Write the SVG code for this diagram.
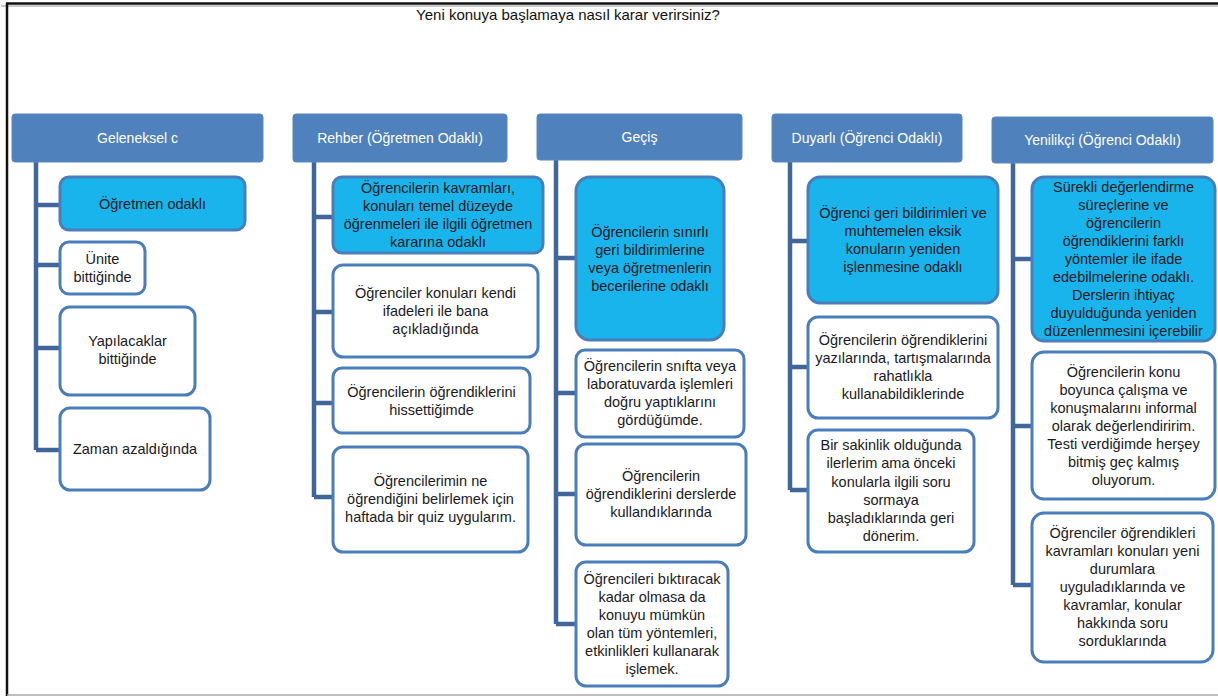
<svg xmlns="http://www.w3.org/2000/svg" width="1218" height="696" viewBox="0 0 1218 696">
  <style>
    .hdr rect { fill: #4f81bd; stroke: #5a88c0; stroke-width: 1; }
    .hdr text { fill: #ffffff; font-family: "Liberation Sans", Arial, sans-serif; font-size: 14px; text-anchor: middle; }
    .node rect { stroke: #4a7ebb; stroke-width: 3; }
    .node.hi rect { fill: #19b4ec; }
    .node.lo rect { fill: #ffffff; }
    .node text { fill: #1a1a24; font-family: "Liberation Sans", Arial, sans-serif; font-size: 14.5px; text-anchor: middle; }
    .links path { fill: none; stroke: #40669a; stroke-width: 4.5; }
    .title { fill: #111111; font-family: "Liberation Sans", Arial, sans-serif; font-size: 15px; text-anchor: middle; }
  </style>

  <rect x="0" y="0" width="1218" height="696" fill="#ffffff"/>
  <!-- page frame -->
  <line x1="6" y1="3.5" x2="1218" y2="3.5" stroke="#111" stroke-width="2.5"/>
  <line x1="1" y1="6" x2="1218" y2="6" stroke="#999" stroke-width="1"/>
  <line x1="7" y1="3" x2="7" y2="696" stroke="#111" stroke-width="2.5"/>
  <line x1="7" y1="695" x2="1218" y2="695" stroke="#aaa" stroke-width="1.5"/>

  <text class="title" x="568" y="20">Yeni konuya başlamaya nasıl karar verirsiniz?</text>

  <!-- connectors -->
  <g class="links">
    <path d="M36 162 V450 M36 205 H60 M36 265 H60 M36 348 H60 M36 450 H60"/>
    <path d="M314 162 V497 M314 217 H333 M314 312 H333 M314 403 H333 M314 497 H333"/>
    <path d="M556 160 V624 M556 258 H576 M556 393 H576 M556 494 H576 M556 624 H576"/>
    <path d="M790 162 V490 M790 241 H808 M790 367 H808 M790 490 H808"/>
    <path d="M1013 162 V585 M1013 259 H1032 M1013 426 H1032 M1013 585 H1032"/>
  </g>

  <!-- column headers -->
  <g id="h1" class="hdr"><rect x="12" y="114" width="251" height="48" rx="3"/><text x="137.5" y="143">Geleneksel c</text></g>
  <g id="h2" class="hdr"><rect x="293" y="114" width="214" height="48" rx="3"/><text x="400" y="143">Rehber (Öğretmen Odaklı)</text></g>
  <g id="h3" class="hdr"><rect x="537" y="114" width="205" height="46" rx="3"/><text x="639.5" y="142">Geçiş</text></g>
  <g id="h4" class="hdr"><rect x="772" y="114" width="190" height="48" rx="3"/><text x="867" y="143">Duyarlı (Öğrenci Odaklı)</text></g>
  <g id="h5" class="hdr"><rect x="992" y="117" width="221" height="46" rx="3"/><text x="1102.5" y="145">Yenilikçi (Öğrenci Odaklı)</text></g>

  <!-- Geleneksel -->
  <g id="n1a" class="node hi"><rect x="60" y="177" width="185" height="53" rx="9"/><text x="152.5" y="209">Öğretmen odaklı</text></g>
  <g id="n1b" class="node lo"><rect x="60" y="242" width="85" height="52" rx="9"/><text x="102.5" y="264">Ünite</text><text x="102.5" y="282">bittiğinde</text></g>
  <g id="n1c" class="node lo"><rect x="60" y="307" width="135" height="88" rx="10"/><text x="127.5" y="346">Yapılacaklar</text><text x="127.5" y="364">bittiğinde</text></g>
  <g id="n1d" class="node lo"><rect x="60" y="408" width="150" height="82" rx="10"/><text x="135" y="454">Zaman azaldığında</text></g>

  <!-- Rehber -->
  <g id="n2a" class="node hi"><rect x="333" y="177" width="210" height="76" rx="9"/>
    <text x="438" y="193">Öğrencilerin kavramları,</text><text x="438" y="211">konuları temel düzeyde</text><text x="438" y="229">öğrenmeleri ile ilgili öğretmen</text><text x="438" y="247">kararına odaklı</text></g>
  <g id="n2b" class="node lo"><rect x="333" y="265" width="205" height="92" rx="10"/>
    <text x="435.5" y="298">Öğrenciler konuları kendi</text><text x="435.5" y="316">ifadeleri ile bana</text><text x="435.5" y="334">açıkladığında</text></g>
  <g id="n2c" class="node lo"><rect x="333" y="368" width="197" height="65" rx="9"/>
    <text x="431.5" y="397">Öğrencilerin öğrendiklerini</text><text x="431.5" y="415">hissettiğimde</text></g>
  <g id="n2d" class="node lo"><rect x="333" y="447" width="195" height="105" rx="10"/>
    <text x="430.5" y="486">Öğrencilerimin ne</text><text x="430.5" y="504">öğrendiğini belirlemek için</text><text x="430.5" y="522">haftada bir quiz uygularım.</text></g>

  <!-- Geçiş -->
  <g id="n3a" class="node hi"><rect x="576" y="177" width="148" height="163" rx="14"/>
    <text x="650" y="237">Öğrencilerin sınırlı</text><text x="650" y="255">geri bildirimlerine</text><text x="650" y="273">veya öğretmenlerin</text><text x="650" y="291">becerilerine odaklı</text></g>
  <g id="n3b" class="node lo"><rect x="576" y="350" width="168" height="87" rx="9"/>
    <text x="660" y="371">Öğrencilerin snıfta veya</text><text x="660" y="389">laboratuvarda işlemleri</text><text x="660" y="407">doğru yaptıklarını</text><text x="660" y="425">gördüğümde.</text></g>
  <g id="n3c" class="node lo"><rect x="576" y="444" width="170" height="101" rx="10"/>
    <text x="661" y="481">Öğrencilerin</text><text x="661" y="499">öğrendiklerini derslerde</text><text x="661" y="517">kullandıklarında</text></g>
  <g id="n3d" class="node lo"><rect x="576" y="562" width="152" height="124" rx="10"/>
    <text x="652" y="584">Öğrencileri bıktıracak</text><text x="652" y="602">kadar olmasa da</text><text x="652" y="620">konuyu mümkün</text><text x="652" y="638">olan tüm yöntemleri,</text><text x="652" y="656">etkinlikleri kullanarak</text><text x="652" y="674">işlemek.</text></g>

  <!-- Duyarlı -->
  <g id="n4a" class="node hi"><rect x="808" y="177" width="190" height="126" rx="12"/>
    <text x="903" y="218">Öğrenci geri bildirimleri ve</text><text x="903" y="236">muhtemelen eksik</text><text x="903" y="254">konuların yeniden</text><text x="903" y="272">işlenmesine odaklı</text></g>
  <g id="n4b" class="node lo"><rect x="808" y="317" width="190" height="101" rx="10"/>
    <text x="903" y="345">Öğrencilerin öğrendiklerini</text><text x="903" y="363">yazılarında, tartışmalarında</text><text x="903" y="381">rahatlıkla</text><text x="903" y="399">kullanabildiklerinde</text></g>
  <g id="n4c" class="node lo"><rect x="808" y="430" width="166" height="122" rx="10"/>
    <text x="891" y="450">Bir sakinlik olduğunda</text><text x="891" y="468">ilerlerim ama önceki</text><text x="891" y="487">konularla ilgili soru</text><text x="891" y="505">sormaya</text><text x="891" y="523">başladıklarında geri</text><text x="891" y="541">dönerim.</text></g>

  <!-- Yenilikçi -->
  <g id="n5a" class="node hi"><rect x="1032" y="177" width="183" height="164" rx="12"/>
    <text x="1123.5" y="192">Sürekli değerlendirme</text><text x="1123.5" y="210">süreçlerine ve</text><text x="1123.5" y="228">öğrencilerin</text><text x="1123.5" y="246">öğrendiklerini farklı</text><text x="1123.5" y="264">yöntemler ile ifade</text><text x="1123.5" y="282">edebilmelerine odaklı.</text><text x="1123.5" y="300">Derslerin ihtiyaç</text><text x="1123.5" y="318">duyulduğunda yeniden</text><text x="1123.5" y="336">düzenlenmesini içerebilir</text></g>
  <g id="n5b" class="node lo"><rect x="1032" y="352" width="183" height="147" rx="12"/>
    <text x="1123.5" y="377">Öğrencilerin konu</text><text x="1123.5" y="395">boyunca çalışma ve</text><text x="1123.5" y="413">konuşmalarını informal</text><text x="1123.5" y="431">olarak değerlendiririm.</text><text x="1123.5" y="449">Testi verdiğimde herşey</text><text x="1123.5" y="467">bitmiş geç kalmış</text><text x="1123.5" y="485">oluyorum.</text></g>
  <g id="n5c" class="node lo"><rect x="1032" y="513" width="181" height="149" rx="12"/>
    <text x="1122.5" y="538">Öğrenciler öğrendikleri</text><text x="1122.5" y="556">kavramları konuları yeni</text><text x="1122.5" y="574">durumlara</text><text x="1122.5" y="592">uyguladıklarında ve</text><text x="1122.5" y="610">kavramlar, konular</text><text x="1122.5" y="628">hakkında soru</text><text x="1122.5" y="646">sorduklarında</text></g>
</svg>
